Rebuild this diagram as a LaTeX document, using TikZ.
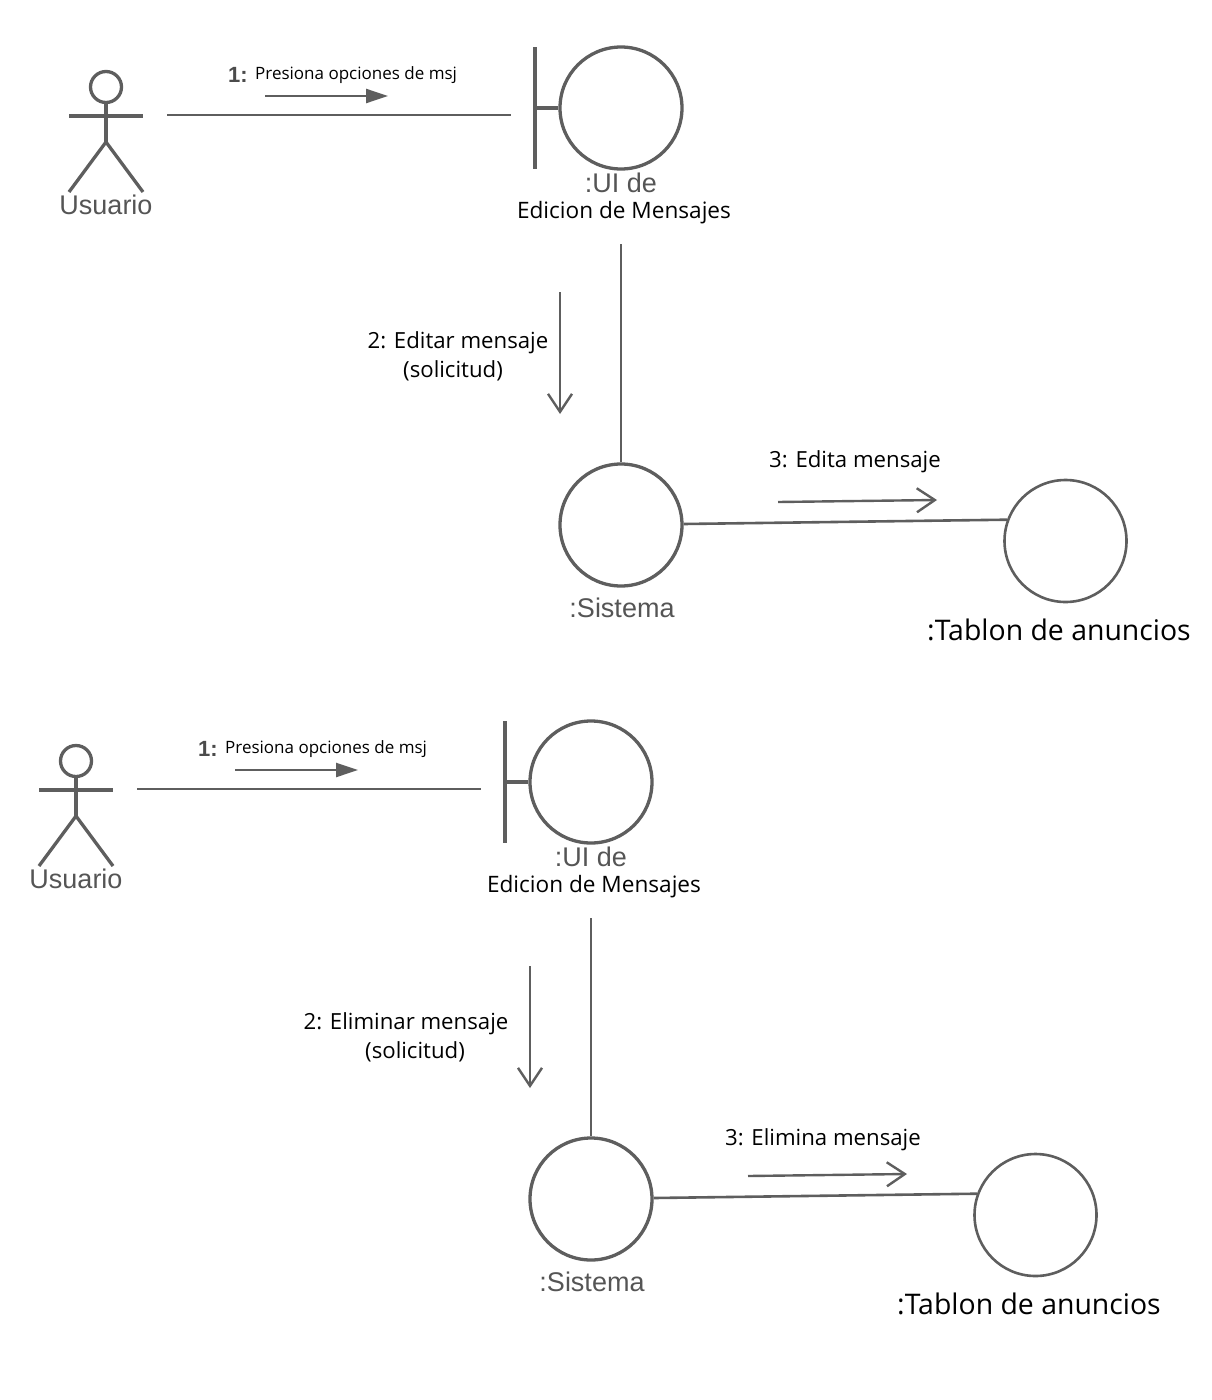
\documentclass[tikz,border=0pt]{standalone}
\usepackage{fontspec}
\setmainfont{Open Sans}
\newfontfamily\lib{Liberation Sans}
\usetikzlibrary{arrows.meta}
\definecolor{ln}{HTML}{5E5E5E}
\tikzset{
 shapeline/.style={draw=ln,line width=3.3pt},
 thinline/.style={draw=ln,line width=2.6pt},
 circ/.style={circle,draw=ln,line width=3.3pt,minimum size=122pt,inner sep=0pt},
 thincirc/.style={circle,draw=ln,line width=2.6pt,minimum size=122pt,inner sep=0pt},
 opena/.style={-{Straight Barb[length=18pt,width=24pt,line width=2.4pt]},draw=ln,line width=2.4pt},
 fulla/.style={-{Triangle[length=22pt,width=14pt]},draw=ln,fill=ln,line width=2.4pt},
 lab/.style={inner sep=0pt,text=black,align=center,font=\fontsize{22.2}{29}\selectfont},
 gr/.style={inner sep=0pt,text=ln!90!black,font=\lib\fontsize{27}{30}\selectfont},
}
\begin{document}
\begin{tikzpicture}[x=1pt,y=-1pt]
\useasboundingbox (0,0) rectangle (1211,1400);
\foreach \dx/\dy/\n in {0/0/A, -30/674/B}{
\begin{scope}[shift={(\dx,\dy)}]
 \node[circle,draw=ln,line width=3.3pt,minimum size=31pt,inner sep=0pt] (head\n) at (106,87) {};
 \coordinate (hip\n) at (106,142);
 \coordinate (armL\n) at (69,116);
 \coordinate (armR\n) at (143,116);
 \coordinate (legL\n) at (69,192);
 \coordinate (legR\n) at (143,192);
 \draw[shapeline] (head\n.south) -- (hip\n);
 \draw[shapeline] (armL\n) -- (armR\n);
 \draw[shapeline] (legL\n) -- (hip\n) -- (legR\n);
 \node[gr] (usr\n) at (106,205) {Usuario};
 \node[circ] (ui\n) at (621,108) {};
 \coordinate (barT\n) at (535,47);
 \coordinate (barB\n) at (535,169);
 \coordinate (barM\n) at (535,108);
 \draw[shapeline,line width=3.6pt] (barT\n) -- (barB\n);
 \draw[shapeline] (barM\n) -- (ui\n.west);
 \node[gr] (uiT\n) at (621,183) {:UI de};
 \node[lab,font=\fontsize{22.6}{26}\selectfont] (uiL\n) at (624,213) {Edicion de Mensajes};
 \coordinate (c1a\n) at (167,115);
 \coordinate (c1b\n) at (511,115);
 \draw[thinline] (c1a\n) -- (c1b\n);
 \coordinate (a1a\n) at (265,96);
 \coordinate (a1b\n) at (388,96);
 \draw[fulla] (a1a\n) -- (a1b\n);
 \node[lab,anchor=west,font=\fontsize{17}{20}\selectfont] (l1\n) at (255,75) {Presiona opciones de msj};
 \node[lab,anchor=west,font=\lib\bfseries\fontsize{22}{24}\selectfont,text=ln!80!black] (n1\n) at (228,75) {1:};
 \node[circ] (sys\n) at (621,525) {};
 \coordinate (c2a\n) at (621,244);
 \draw[thinline] (c2a\n) -- (sys\n.north);
 \node[gr] (sysT\n) at (622,608) {:Sistema};
 \coordinate (a2a\n) at (560,292);
 \coordinate (a2b\n) at (560,414);
 \draw[opena] (a2a\n) -- (a2b\n);
 \node[thincirc] (tab\n) at (1065.5,541) {};
 \draw[thinline] (sys\n.east) ++(0,-1) -- (tab\n.160);
 \coordinate (a3a\n) at (778,502);
 \coordinate (a3b\n) at (937,500);
 \draw[opena] (a3a\n) -- (a3b\n);
 \node[lab,font=\fontsize{28.4}{34}\selectfont] (tabT\n) at (1059,630) {:Tablon de anuncios};
\end{scope}
}
\node[lab] (t2Aa) at (458,343) {2: Editar mensaje};
\node[lab] (t2Ab) at (453,371) {(solicitud)};
\node[lab] (t3A) at (855,462) {3: Edita mensaje};
\node[lab] (t2Ba) at (406,1024) {2: Eliminar mensaje};
\node[lab] (t2Bb) at (415,1052) {(solicitud)};
\node[lab] (t3B) at (823,1140) {3: Elimina mensaje};
\end{tikzpicture}
\end{document}
